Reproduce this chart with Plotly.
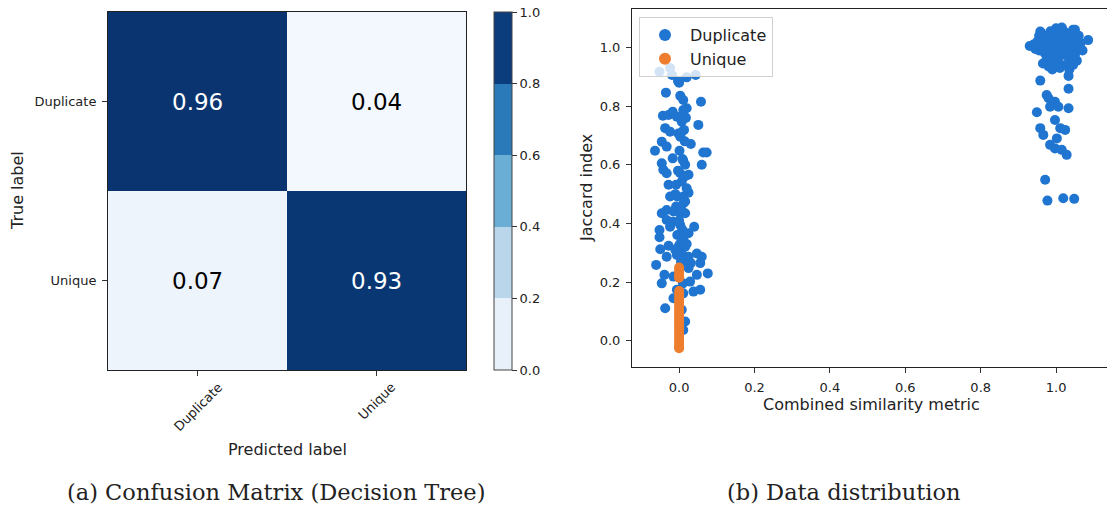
import plotly.graph_objects as go

# ---------------- data ----------------
cm_labels = ["Duplicate", "Unique"]
cm_values = [[0.96, 0.04],
             [0.07, 0.93]]
cbar_ticks = [0.0, 0.2, 0.4, 0.6, 0.8, 1.0]
cbar_colors = ["#e8f1fa", "#bad6eb", "#6aaed6", "#2a7ab9", "#0b3d7d"]

dup_left_x = [-0.052, -0.024, -0.019, -0.003, 0.02, 0.044, -0.035, 0.003, 0.011, 0.058,
              -0.043, -0.028, -0.017, -0.006, 0.011, 0.02, 0.007, 0.051, -0.037, -0.024,
              -0.002, 0.013, -0.046, -0.033, 0.003, 0.031, -0.064, 0.001, 0.064, 0.073,
              -0.046, -0.017, 0.011, 0.016, 0.06, -0.042, -0.033, 0.003, 0.025, -0.028,
              -0.008, 0.007, 0.025, -0.024, -0.005, 0.011, 0.016, -0.008, -0.033, -0.046,
              -0.015, 0.003, 0.016, -0.033, -0.017, -0.024, 0.003, 0.04, -0.052, -0.052,
              -0.005, 0.011, 0.025, -0.028, -0.002, 0.016, -0.05, -0.033, -0.006, 0.007,
              0.025, 0.047, 0.06, -0.061, 0.016, 0.031, 0.056, 0.025, -0.039, -0.015,
              0.047, 0.076, -0.046, 0.01, 0.029, 0.038, 0.056, 0.011, -0.015, -0.037,
              0.007, 0.011, -0.006, 0.016, 0.0, 0.005, -0.01, 0.008, 0.002, 0.012,
              -0.003, 0.015, 0.02, 0.0, 0.005, -0.01, 0.02, 0.009, 0.012, 0.018,
              0.006, 0.015, 0.0]
dup_left_y = [0.917, 0.93, 0.906, 0.886, 0.898, 0.906, 0.846, 0.835, 0.821, 0.815,
              0.767, 0.77, 0.781, 0.764, 0.787, 0.793, 0.747, 0.736, 0.725, 0.713,
              0.707, 0.719, 0.679, 0.662, 0.696, 0.671, 0.648, 0.648, 0.642, 0.642,
              0.605, 0.622, 0.614, 0.6, 0.6, 0.583, 0.571, 0.571, 0.566, 0.532,
              0.532, 0.543, 0.505, 0.492, 0.492, 0.492, 0.475, 0.458, 0.446, 0.435,
              0.441, 0.435, 0.435, 0.412, 0.406, 0.389, 0.395, 0.389, 0.378, 0.353,
              0.361, 0.35, 0.367, 0.324, 0.321, 0.321, 0.312, 0.287, 0.293, 0.298,
              0.287, 0.298, 0.287, 0.259, 0.265, 0.265, 0.265, 0.248, 0.225, 0.219,
              0.225, 0.23, 0.196, 0.196, 0.202, 0.168, 0.174, 0.162, 0.145, 0.111,
              0.106, 0.037, 0.174, 0.066, 0.3, 0.45, 0.5, 0.38, 0.33, 0.47,
              0.58, 0.56, 0.52, 0.41, 0.27, 0.31, 0.33, 0.62, 0.77, 0.76,
              0.71, 0.68, 0.88]

dup_right_x = [0.958, 1.033, 1.033, 0.975, 0.98, 0.997, 0.984, 1.006, 1.033, 0.949,
               0.997, 0.958, 0.966, 1.011, 1.024, 1.002, 0.984, 0.997, 1.015, 1.028,
               0.971, 0.977, 1.019, 1.048,
               0.93, 0.94, 0.945, 0.95, 0.955, 0.96, 0.96, 0.965, 0.97, 0.97,
               0.975, 0.975, 0.98, 0.98, 0.985, 0.985, 0.99, 0.99, 0.99, 0.995,
               1.0, 1.0, 1.0, 1.005, 1.005, 1.01, 1.01, 1.015, 1.015, 1.02,
               1.02, 1.025, 1.025, 1.03, 1.03, 1.035, 1.035, 1.04, 1.04, 1.045,
               1.045, 1.05, 1.05, 1.055, 1.06, 1.065, 1.07, 1.085, 0.965, 0.98,
               1.01, 1.045, 0.995, 1.0, 0.955, 1.02, 1.06, 1.035, 0.958, 1.015, 1.05]
dup_right_y = [0.887, 0.903, 0.859, 0.838, 0.827, 0.815, 0.798, 0.798, 0.793, 0.779,
               0.753, 0.725, 0.702, 0.725, 0.719, 0.69, 0.668, 0.656, 0.651, 0.634,
               0.549, 0.478, 0.486, 0.484,
               1.005, 1.01, 0.995, 1.02, 0.99, 1.03, 1.05, 1.0, 1.015, 0.98,
               1.04, 0.96, 1.025, 0.995, 1.055, 0.97, 1.01, 0.94, 0.925, 1.035,
               1.0, 0.985, 1.065, 1.02, 0.955, 1.045, 0.99, 1.065, 1.01, 0.975,
               1.03, 1.05, 0.94, 1.0, 1.02, 0.96, 0.925, 1.04, 0.99, 1.01,
               1.06, 0.975, 1.025, 0.955, 1.0, 1.015, 0.99, 1.025, 0.945, 0.935,
               0.93, 0.94, 1.05, 1.04, 1.04, 1.055, 1.04, 1.045, 1.054, 1.068, 1.06]

uniq_x = [0.0, 0.0, 0.0, 0.0, 0.0, 0.0, 0.0, 0.0, 0.0, 0.0,
          0.0, 0.0, 0.0, 0.0, 0.0, 0.0, 0.0, 0.0, 0.0, 0.0,
          0.0, 0.0, 0.0, 0.0, 0.0, 0.0]
uniq_y = [0.25, 0.24, 0.23, 0.22, 0.215, 0.17, 0.16, 0.15, 0.14, 0.13,
          0.12, 0.11, 0.10, 0.09, 0.08, 0.07, 0.06, 0.05, 0.04, 0.03,
          0.02, 0.01, 0.0, -0.01, -0.02, -0.025]

x_ticks = [0.0, 0.2, 0.4, 0.6, 0.8, 1.0]
y_ticks = [0.0, 0.2, 0.4, 0.6, 0.8, 1.0]

# ---------------- figure ----------------
W, H = 1107, 510
def px(x):
    return x / W
def py(y):
    return 1 - y / H

FONT = "DejaVu Sans"
BLUE = "#1f75d0"
ORANGE = "#ee7d2e"

cell_scale = [[0.0, "#f9fcff"], [0.1, "#e8f1fa"], [0.3, "#bad6eb"], [0.5, "#6aaed6"],
              [0.7, "#2a7ab9"], [0.9, "#0a3a78"], [1.0, "#08306b"]]

fig = go.Figure()

fig.add_trace(go.Heatmap(
    x=cm_labels, y=cm_labels, z=cm_values,
    colorscale=cell_scale, zmin=0, zmax=1, showscale=False,
    xaxis="x", yaxis="y", hoverinfo="skip"))

# discrete colorbar (carried by an invisible marker)
dscale = []
n = len(cbar_colors)
for i, c in enumerate(cbar_colors):
    dscale.append([i / n, c])
    dscale.append([(i + 1) / n, c])
fig.add_trace(go.Scatter(
    x=[cm_labels[0]], y=[cm_labels[0]], mode="markers", showlegend=False,
    hoverinfo="skip", xaxis="x", yaxis="y",
    marker=dict(
        color=[0.5], colorscale=dscale, cmin=0, cmax=1, opacity=0, showscale=True,
        colorbar=dict(
            x=px(494), xanchor="left", y=py(191), yanchor="middle",
            thickness=18, thicknessmode="pixels",
            len=358, lenmode="pixels", xpad=0, ypad=0,
            outlinecolor="#444", outlinewidth=1,
            tickvals=cbar_ticks, ticktext=[f"{t:.1f}" for t in cbar_ticks],
            ticks="outside", ticklen=5, tickcolor="#333",
            tickfont=dict(family=FONT, size=13, color="#222")))))

# cell annotations
annotations = []
for i, row_lab in enumerate(cm_labels):
    for j, col_lab in enumerate(cm_labels):
        v = cm_values[i][j]
        annotations.append(dict(
            x=col_lab, y=row_lab, xref="x", yref="y", text=f"{v:.2f}",
            showarrow=False,
            font=dict(family=FONT, size=23, color="white" if v > 0.5 else "black")))

# rotated x tick labels of the confusion matrix, centred under their ticks
for lab in cm_labels:
    annotations.append(dict(
        x=lab, y=py(377), xref="x", yref="paper", text=lab, textangle=-45,
        xanchor="center", yanchor="top", showarrow=False,
        font=dict(family=FONT, size=13, color="#222")))

fig.add_trace(go.Scatter(
    x=dup_left_x + dup_right_x, y=dup_left_y + dup_right_y,
    mode="markers", name="Duplicate",
    marker=dict(color=BLUE, size=10, line=dict(width=0)),
    xaxis="x2", yaxis="y2"))
fig.add_trace(go.Scatter(
    x=uniq_x, y=uniq_y, mode="markers", name="Unique",
    marker=dict(color=ORANGE, size=10, line=dict(width=0)),
    xaxis="x2", yaxis="y2"))

axis_common = dict(showgrid=False, zeroline=False, ticks="outside", ticklen=5,
                   tickcolor="#333", linecolor="#222", linewidth=1, showline=True,
                   ticklabelstandoff=3,
                   tickfont=dict(family=FONT, size=13, color="#222"))

fig.update_layout(
    width=W, height=H,
    margin=dict(l=0, r=0, t=0, b=0),
    paper_bgcolor="white", plot_bgcolor="white",
    xaxis=dict(domain=[px(108), px(466)], anchor="y", mirror=True,
               showticklabels=False, **axis_common),
    yaxis=dict(domain=[py(370), py(12)], anchor="x", mirror=True,
               autorange="reversed", **axis_common),
    xaxis2=dict(domain=[px(632), 1.0], anchor="y2", mirror=True,
                range=[-0.125, 1.135], tickvals=x_ticks,
                ticktext=[f"{t:.1f}" for t in x_ticks], **axis_common),
    yaxis2=dict(domain=[py(367), py(9)], anchor="x2", mirror=False,
                range=[-0.089, 1.131], tickvals=y_ticks,
                ticktext=[f"{t:.1f}" for t in y_ticks], **axis_common),
    legend=dict(x=px(639), y=py(17), xanchor="left", yanchor="top",
                bgcolor="rgba(255,255,255,0.8)", bordercolor="#d0d0d0",
                borderwidth=1, font=dict(family=FONT, size=16, color="#222"),
                itemsizing="constant", itemwidth=40, tracegroupgap=0),
    showlegend=True,
)

text_ann = [
    dict(text="True label", x=px(17), y=py(191), textangle=-90, size=16),
    dict(text="Predicted label", x=px(287), y=py(449), textangle=0, size=16),
    dict(text="Jaccard index", x=px(586), y=py(188), textangle=-90, size=16),
    dict(text="Combined similarity metric", x=px(871), y=py(404), textangle=0, size=16),
]
for a in text_ann:
    annotations.append(dict(text=a["text"], x=a["x"], y=a["y"], xref="paper", yref="paper",
                            xanchor="center", yanchor="middle", textangle=a["textangle"],
                            showarrow=False,
                            font=dict(family=FONT, size=a["size"], color="#222")))

captions = [("(a) Confusion Matrix (Decision Tree)", 276),
            ("(b) Data distribution", 843)]
for txt, cx in captions:
    annotations.append(dict(text=txt, x=px(cx), y=py(492), xref="paper", yref="paper",
                            xanchor="center", yanchor="middle", showarrow=False,
                            font=dict(family="DejaVu Serif", size=22.5, color="#222")))

fig.update_layout(annotations=annotations)
fig.write_html("out.html")
